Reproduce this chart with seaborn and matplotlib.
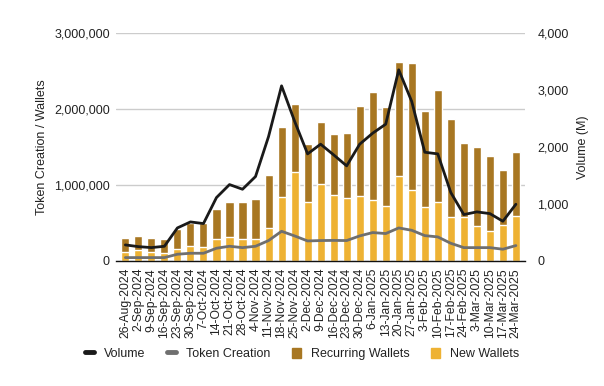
import matplotlib
matplotlib.use("Agg")
import matplotlib.pyplot as plt
import seaborn as sns
import numpy as np
import pandas as pd
from matplotlib.lines import Line2D
from matplotlib.patches import Patch
from matplotlib.ticker import FuncFormatter

weeks = ["26-Aug-2024", "2-Sep-2024", "9-Sep-2024", "16-Sep-2024", "23-Sep-2024",
         "30-Sep-2024", "7-Oct-2024", "14-Oct-2024", "21-Oct-2024", "28-Oct-2024",
         "4-Nov-2024", "11-Nov-2024", "18-Nov-2024", "25-Nov-2024", "2-Dec-2024",
         "9-Dec-2024", "16-Dec-2024", "23-Dec-2024", "30-Dec-2024", "6-Jan-2025",
         "13-Jan-2025", "20-Jan-2025", "27-Jan-2025", "3-Feb-2025", "10-Feb-2025",
         "17-Feb-2025", "24-Feb-2025", "3-Mar-2025", "10-Mar-2025", "17-Mar-2025",
         "24-Mar-2025"]

# total wallets (new + recurring) and new wallets
total_wallets = [298000, 329000, 298000, 285000, 421000, 504000, 496000, 680000, 772000, 772000,
                 816000, 1132000, 1759000, 2066000, 1539000, 1825000, 1671000, 1680000, 2039000,
                 2224000, 2022000, 2618000, 2605000, 1974000, 2250000, 1868000, 1553000, 1500000,
                 1382000, 1197000, 1434000]
new_wallets = [123000, 149000, 123000, 110000, 158000, 197000, 184000, 289000, 316000, 289000,
               289000, 434000, 842000, 1171000, 776000, 1018000, 868000, 829000, 855000,
               803000, 724000, 1118000, 934000, 711000, 776000, 579000, 583000, 461000,
               399000, 478000, 592000]
token_creation = [44000, 44000, 44000, 44000, 88000, 101000, 101000, 167000, 193000, 175000,
                  193000, 268000, 390000, 329000, 263000, 268000, 270000, 268000, 329000,
                  373000, 360000, 434000, 403000, 333000, 316000, 232000, 175000, 175000,
                  175000, 154000, 202000]
volume_m = [281, 251, 234, 257, 579, 684, 655, 1111, 1339, 1257, 1480, 2181, 3070, 2450,
            1877, 2047, 1860, 1667, 2047, 2240, 2398, 3351, 2795, 1906, 1877, 1199, 813,
            860, 830, 696, 994]

df = pd.DataFrame({"week": weeks, "total": total_wallets, "new": new_wallets,
                   "tokens": token_creation, "volume": volume_m})
df["pos"] = np.arange(len(df))

brown = "#A87722"
yellow = "#EEB233"
txt = "#222222"

sns.set_style("white")
plt.rcParams["font.family"] = ["Liberation Sans", "DejaVu Sans"]

fig = plt.figure(figsize=(6.04, 3.86), dpi=100)
ax = fig.add_axes([0.192, 0.324, 0.677, 0.591])

sns.barplot(data=df, x="week", y="total", order=weeks, color=brown, width=0.62,
            saturation=1, ax=ax, zorder=2)
sns.barplot(data=df, x="week", y="new", order=weeks, color=yellow, width=0.62,
            saturation=1, ax=ax, zorder=2)
sns.lineplot(data=df, x="pos", y="tokens", color="#6f6f6f", linewidth=2, ax=ax, zorder=3)

ax.set_ylim(0, 3000000)
ax.set_yticks([0, 1000000, 2000000, 3000000])
ax.yaxis.set_major_formatter(FuncFormatter(lambda v, p: f"{int(v):,}"))
ax.set_xlim(-0.72, len(weeks) - 0.31)
ax.grid(axis="y", color="#cccccc", linewidth=1, zorder=0)
ax.set_axisbelow(True)
for s in ["top", "right", "left"]:
    ax.spines[s].set_visible(False)
ax.spines["bottom"].set_color("#111111")
ax.spines["bottom"].set_linewidth(1)
ax.spines["bottom"].set_zorder(4)
ax.tick_params(axis="x", rotation=90, labelsize=8.7, colors=txt, length=3, width=0.8, pad=2)
ax.tick_params(axis="x", color="#111111")
ax.tick_params(axis="y", labelsize=9, colors=txt, length=0, pad=4.5)
ax.set_xlabel("")
ax.set_ylabel("Token Creation / Wallets", fontsize=9, color=txt, labelpad=4)

ax2 = ax.twinx()
sns.lineplot(data=df, x="pos", y="volume", color="#1a1a1a", linewidth=2, ax=ax2, zorder=4)
ax2.set_ylim(0, 4000)
ax2.set_yticks([0, 1000, 2000, 3000, 4000])
ax2.yaxis.set_major_formatter(FuncFormatter(lambda v, p: f"{int(v):,}"))
ax2.tick_params(axis="y", labelsize=9, colors=txt, length=0, pad=9)
ax2.set_ylabel("Volume (M)", fontsize=9, color=txt, labelpad=6)
for s in ax2.spines.values():
    s.set_visible(False)
ax2.set_xlim(ax.get_xlim())

handles = [Line2D([0], [0], color="#1a1a1a", linewidth=3.5),
           Line2D([0], [0], color="#6f6f6f", linewidth=3.5),
           Patch(facecolor=brown, edgecolor=brown),
           Patch(facecolor=yellow, edgecolor=yellow)]
labels = ["Volume", "Token Creation", "Recurring Wallets", "New Wallets"]
fig.legend(handles, labels, loc="center", bbox_to_anchor=(0.5, 0.083), ncol=4,
           frameon=False, fontsize=9, handlelength=0.75, handleheight=0.9,
           columnspacing=1.7, handletextpad=0.8, labelcolor=txt)

fig.savefig("out.png", dpi=100)
